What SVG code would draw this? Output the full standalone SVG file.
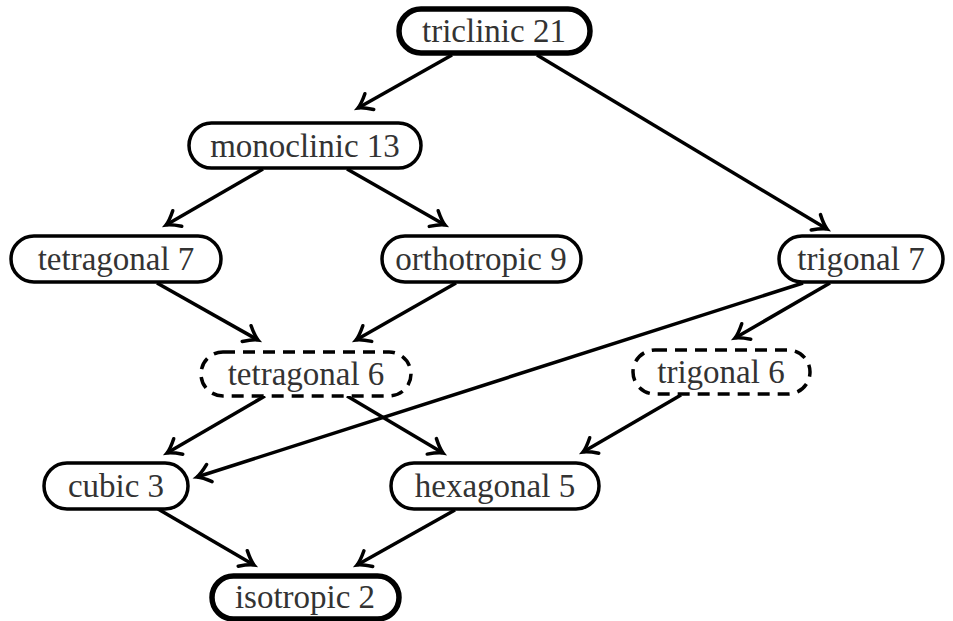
<svg xmlns="http://www.w3.org/2000/svg" width="953" height="621" viewBox="0 0 953 621">
<style>
.n{fill:#fff;stroke:#000;stroke-width:3.5}
.thick{stroke-width:5.5}
.dash{stroke-dasharray:12 8}
text{font-family:"Liberation Serif","DejaVu Serif",serif;font-size:33px;fill:#333;text-anchor:middle;dominant-baseline:central}
.e{stroke:#000;stroke-width:3.5;fill:none;marker-end:url(#ah)}
</style>
<defs>
<marker id="ah" markerUnits="userSpaceOnUse" markerWidth="30" markerHeight="30" refX="15" refY="15" orient="auto" overflow="visible">
<path d="M2,6 Q10,13 15,15 Q10,17 2,24" fill="none" stroke="#000" stroke-width="3.5" stroke-linecap="round"/>
</marker>
</defs>
<g id="edges">
<line class="e" x1="452" y1="55" x2="358" y2="108"/>
<line class="e" x1="537" y1="55" x2="827" y2="229"/>
<line class="e" x1="263" y1="169" x2="166" y2="225"/>
<line class="e" x1="347" y1="169" x2="445" y2="225"/>
<line class="e" x1="157" y1="283" x2="258" y2="340"/>
<line class="e" x1="456" y1="283" x2="356" y2="340"/>
<line class="e" x1="803" y1="283" x2="197" y2="477"/>
<line class="e" x1="830" y1="283" x2="735" y2="338"/>
<line class="e" x1="265" y1="396" x2="167" y2="453"/>
<line class="e" x1="347" y1="396" x2="443" y2="453"/>
<line class="e" x1="681" y1="395" x2="583" y2="452"/>
<line class="e" x1="158" y1="509" x2="254" y2="565"/>
<line class="e" x1="455" y1="510" x2="357" y2="565"/>
</g>
<g id="triclinic21"><rect class="n thick" x="399" y="9" width="191" height="44" rx="22"/><text x="494" y="31">triclinic 21</text></g>
<g id="monoclinic13"><rect class="n" x="189" y="123" width="232" height="45" rx="22.5"/><text x="305" y="146">monoclinic 13</text></g>
<g id="tetragonal7"><rect class="n" x="11" y="236" width="210" height="46" rx="23"/><text x="116" y="259">tetragonal 7</text></g>
<g id="orthotropic9"><rect class="n" x="382" y="236" width="199" height="46" rx="23"/><text x="481" y="259">orthotropic 9</text></g>
<g id="trigonal7"><rect class="n" x="779" y="236" width="164" height="46" rx="23"/><text x="861" y="259">trigonal 7</text></g>
<g id="tetragonal6"><rect class="n dash" x="201" y="352" width="210" height="44" rx="22"/><text x="306" y="374">tetragonal 6</text></g>
<g id="trigonal6"><rect class="n dash" x="633" y="350" width="177" height="44" rx="22"/><text x="721" y="372">trigonal 6</text></g>
<g id="cubic3"><rect class="n" x="44" y="463" width="144" height="46" rx="23"/><text x="116" y="486">cubic 3</text></g>
<g id="hexagonal5"><rect class="n" x="391" y="463" width="208" height="46" rx="23"/><text x="495" y="486">hexagonal 5</text></g>
<g id="isotropic2"><rect class="n thick" x="212" y="576" width="187" height="43" rx="21.5"/><text x="305" y="597">isotropic 2</text></g>
</svg>
